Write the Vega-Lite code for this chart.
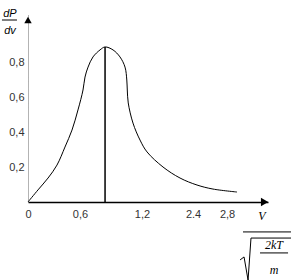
{
  "$schema": "https://vega.github.io/schema/vega-lite/v6.json",
  "autosize": {"type": "none"},
  "padding": {"left": 28, "top": 15, "right": 27, "bottom": 78},
  "width": 240,
  "height": 187,
  "config": {"view": {"stroke": null}, "background": "white"},
  "datasets": {
    "curve": [
      {"i": 0, "v": 0, "p": 0},
      {"i": 1, "v": 0.105, "p": 0.069},
      {"i": 2, "v": 0.211, "p": 0.137},
      {"i": 3, "v": 0.305, "p": 0.211},
      {"i": 4, "v": 0.389, "p": 0.314},
      {"i": 5, "v": 0.463, "p": 0.411},
      {"i": 6, "v": 0.526, "p": 0.526},
      {"i": 7, "v": 0.579, "p": 0.64},
      {"i": 8, "v": 0.6, "p": 0.714},
      {"i": 9, "v": 0.632, "p": 0.771},
      {"i": 10, "v": 0.684, "p": 0.829},
      {"i": 11, "v": 0.758, "p": 0.869},
      {"i": 12, "v": 0.811, "p": 0.886},
      {"i": 13, "v": 0.895, "p": 0.869},
      {"i": 14, "v": 0.968, "p": 0.829},
      {"i": 15, "v": 1.021, "p": 0.771},
      {"i": 16, "v": 1.04, "p": 0.697},
      {"i": 17, "v": 1.045, "p": 0.64},
      {"i": 18, "v": 1.055, "p": 0.566},
      {"i": 19, "v": 1.105, "p": 0.451},
      {"i": 20, "v": 1.179, "p": 0.354},
      {"i": 21, "v": 1.253, "p": 0.286},
      {"i": 22, "v": 1.421, "p": 0.2},
      {"i": 23, "v": 1.6, "p": 0.137},
      {"i": 24, "v": 1.779, "p": 0.097},
      {"i": 25, "v": 1.947, "p": 0.074},
      {"i": 26, "v": 2.2, "p": 0.057}
    ],
    "peak": [{"v": 0.811, "p": 0, "p2": 0.886}],
    "xarrow": [{"v": 2.49, "p": 0}],
    "yarrow": [{"v": 0, "p": 1.04}],
    "fracLines": [
      {"v": -0.274, "v2": -0.116, "p": 1.04},
      {"v": 2.263, "v2": 2.768, "p": -0.171},
      {"v": 2.442, "v2": 2.737, "p": -0.291}
    ],
    "radical": [
      {"i": 0, "v": 2.232, "p": -0.331},
      {"i": 1, "v": 2.274, "p": -0.314},
      {"i": 2, "v": 2.316, "p": -0.446},
      {"i": 3, "v": 2.347, "p": -0.206},
      {"i": 4, "v": 2.768, "p": -0.206}
    ],
    "ylabel": [
      {"v": -0.19, "p": 1.074, "t": "dP"},
      {"v": -0.19, "p": 0.977, "t": "dv"}
    ],
    "xlabel": [
      {"v": 2.463, "p": -0.08, "t": "V"},
      {"v": 2.589, "p": -0.246, "t": "2kT"},
      {"v": 2.589, "p": -0.389, "t": "m"}
    ]
  },
  "layer": [
    {
      "data": {"name": "curve"},
      "mark": {"type": "line", "color": "black", "strokeWidth": 1, "interpolate": "catmull-rom"},
      "encoding": {
        "x": {
          "field": "v", "type": "quantitative",
          "scale": {"domain": [0, 2.526], "nice": false, "zero": false},
          "axis": {
            "title": null, "grid": false, "ticks": false,
            "values": [0, 0.547, 1.2, 1.737, 2.095],
            "labelExpr": "datum.value == 0 ? '0' : datum.value < 0.6 ? '0,6' : datum.value < 1.3 ? '1,2' : datum.value < 1.8 ? '2.4' : '2,8'",
            "domainColor": "black", "domainWidth": 1.5,
            "labelFont": "Liberation Sans", "labelFontSize": 11, "labelColor": "#333",
            "labelPadding": 6, "labelFlush": false
          }
        },
        "y": {
          "field": "p", "type": "quantitative",
          "scale": {"domain": [0, 1.0686], "nice": false, "zero": false},
          "axis": {
            "title": null, "grid": false, "ticks": false,
            "values": [0.2, 0.4, 0.6, 0.8],
            "labelExpr": "replace(format(datum.value, '.1f'), '.', ',')",
            "domainColor": "#666", "domainWidth": 1, "domainDash": [1, 1],
            "labelFont": "Liberation Sans", "labelFontSize": 11, "labelColor": "#333",
            "labelPadding": 4
          }
        },
        "order": {"field": "i", "type": "quantitative"}
      }
    },
    {
      "data": {"name": "peak"},
      "mark": {"type": "rule", "color": "black", "strokeWidth": 1.5},
      "encoding": {
        "x": {"field": "v", "type": "quantitative"},
        "y": {"field": "p", "type": "quantitative"},
        "y2": {"field": "p2"}
      }
    },
    {
      "data": {"name": "xarrow"},
      "mark": {"type": "point", "shape": "triangle-right", "filled": true, "color": "black", "size": 70, "opacity": 1},
      "encoding": {
        "x": {"field": "v", "type": "quantitative"},
        "y": {"field": "p", "type": "quantitative"}
      }
    },
    {
      "data": {"name": "yarrow"},
      "mark": {"type": "point", "shape": "triangle-up", "filled": true, "color": "black", "size": 55, "opacity": 1},
      "encoding": {
        "x": {"field": "v", "type": "quantitative"},
        "y": {"field": "p", "type": "quantitative"}
      }
    },
    {
      "data": {"name": "fracLines"},
      "mark": {"type": "rule", "color": "black", "strokeWidth": 1},
      "encoding": {
        "x": {"field": "v", "type": "quantitative"},
        "x2": {"field": "v2"},
        "y": {"field": "p", "type": "quantitative"}
      }
    },
    {
      "data": {"name": "radical"},
      "mark": {"type": "line", "color": "black", "strokeWidth": 1},
      "encoding": {
        "x": {"field": "v", "type": "quantitative"},
        "y": {"field": "p", "type": "quantitative"},
        "order": {"field": "i", "type": "quantitative"}
      }
    },
    {
      "data": {"name": "ylabel"},
      "mark": {"type": "text", "font": "Liberation Sans", "fontStyle": "italic", "fontSize": 11, "color": "black", "align": "center", "baseline": "middle"},
      "encoding": {
        "x": {"field": "v", "type": "quantitative"},
        "y": {"field": "p", "type": "quantitative"},
        "text": {"field": "t"}
      }
    },
    {
      "data": {"name": "xlabel"},
      "mark": {"type": "text", "font": "Liberation Serif", "fontStyle": "italic", "fontSize": 12, "color": "black", "align": "center", "baseline": "middle"},
      "encoding": {
        "x": {"field": "v", "type": "quantitative"},
        "y": {"field": "p", "type": "quantitative"},
        "text": {"field": "t"}
      }
    }
  ]
}
